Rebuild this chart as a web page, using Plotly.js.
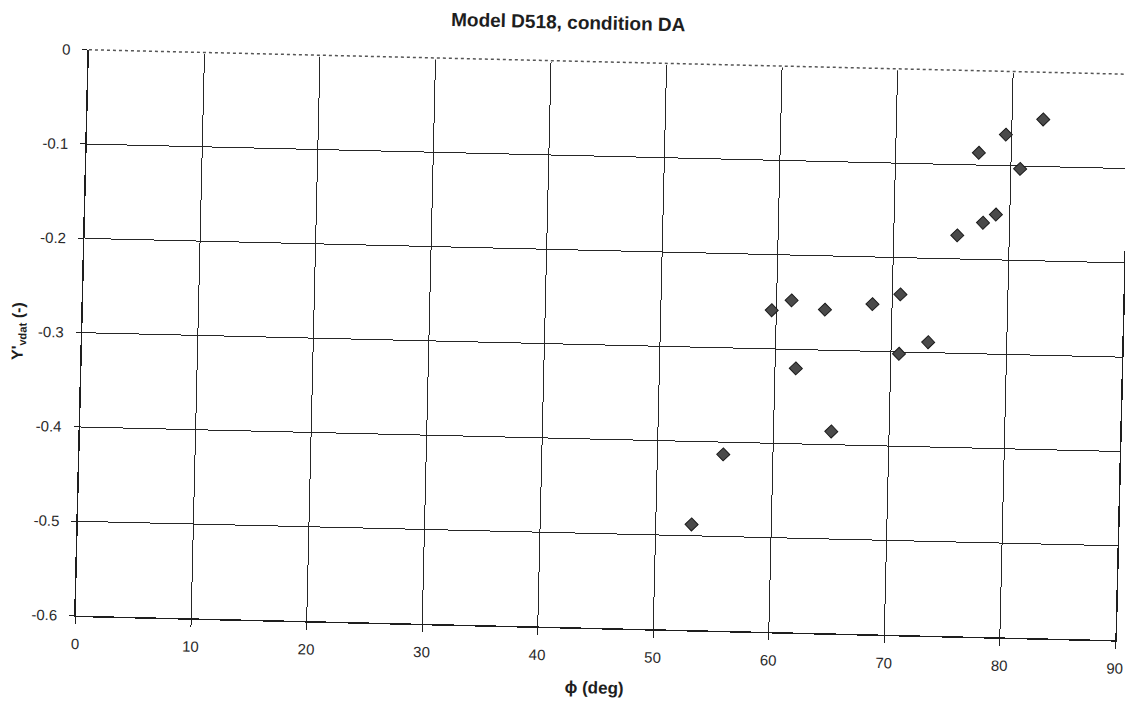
<!DOCTYPE html>
<html>
<head>
<meta charset="utf-8">
<script src="https://cdn.plot.ly/plotly-3.0.1.min.js"></script>
<style>
  html, body { margin: 0; padding: 0; background: #ffffff; overflow: hidden; width: 1125px; height: 702px; }
  /* the printed sheet sits slightly turned on the page */
  #chart { position: absolute; left: 0; top: 0; width: 1160px; height: 702px;
           transform-origin: 562.5px 351px; transform: rotate(1.35deg); }
</style>
</head>
<body>
<div id="chart"></div>
<script>
// Measured flow angle phi (deg) and the corresponding Y'vdat (-)
const phiDeg = [53.1, 55.7, 59.6, 61.3, 61.8, 64.2, 65.0, 68.3, 70.7, 70.7,
                73.2, 75.5, 77.2, 77.7, 78.8, 79.5, 80.8, 82.7];
const yVdat  = [-0.488, -0.413, -0.259, -0.248, -0.320, -0.257, -0.386, -0.250, -0.239, -0.302,
                -0.289, -0.175, -0.087, -0.161, -0.152, -0.067, -0.103, -0.050];

// Axis ticks
const xTickVals = [0, 10, 20, 30, 40, 50, 60, 70, 80, 90];
const yTickVals = [0, -0.1, -0.2, -0.3, -0.4, -0.5, -0.6];
const yTickText = ['0', '-0.1', '-0.2', '-0.3', '-0.4', '-0.5', '-0.6'];

const FONT = 'Liberation Sans, Arial, Helvetica, sans-serif';
const INK = '#1e1e1e';
const GRID = '#262626';

const trace = {
  type: 'scatter',
  mode: 'markers',
  x: phiDeg,
  y: yVdat,
  marker: { symbol: 'diamond', size: 10, color: '#4a4a4a', line: { color: '#1a1a1a', width: 1 } },
  hoverinfo: 'x+y',
  showlegend: false
};

const layout = {
  width: 1160,
  height: 702,
  margin: { l: 82, r: 38, t: 61, b: 75, pad: 0 },
  paper_bgcolor: '#ffffff',
  plot_bgcolor: '#ffffff',
  font: { family: FONT, color: INK, size: 15 },
  title: {
    text: '<b>Model D518, condition DA</b>',
    font: { family: FONT, size: 19, color: INK },
    xref: 'container', x: 0.4832, xanchor: 'center',
    yref: 'container', y: 0.9687, yanchor: 'middle'
  },
  xaxis: {
    range: [0, 90],
    tickvals: xTickVals,
    showgrid: true, gridcolor: GRID, gridwidth: 1,
    zeroline: false,
    showline: true, linecolor: INK, linewidth: 1.5,
    ticks: 'outside', ticklen: 7, tickcolor: INK, tickwidth: 1,
    ticklabelstandoff: 7,
    tickfont: { family: FONT, size: 15, color: '#2a2a2a' },
    title: { text: '<b>ϕ (deg)</b>', font: { family: FONT, size: 17, color: INK }, standoff: 18 }
  },
  yaxis: {
    range: [-0.6, 0],
    tickvals: yTickVals,
    ticktext: yTickText,
    showgrid: true, gridcolor: GRID, gridwidth: 1,
    zeroline: false,
    showline: true, linecolor: INK, linewidth: 1.5, mirror: true,
    ticks: 'outside', ticklen: 5, tickcolor: INK, tickwidth: 1,
    ticklabelstandoff: 9,
    tickfont: { family: FONT, size: 15, color: '#2a2a2a' },
    title: { text: "<b>Y'<sub>vdat</sub> (-)</b>", font: { family: FONT, size: 16, color: INK }, standoff: 10 }
  },
  shapes: [
    // top frame edge: blank out the grid line, then a faint dotted rule
    { type: 'line', xref: 'paper', yref: 'paper', x0: 0, x1: 1, y0: 1, y1: 1,
      line: { color: '#ffffff', width: 3 }, layer: 'above' },
    { type: 'line', xref: 'paper', yref: 'paper', x0: 0, x1: 1, y0: 1, y1: 1,
      line: { color: '#555555', width: 1.5, dash: 'dot' }, layer: 'above' }
  ]
};

Plotly.newPlot('chart', [trace], layout, { displayModeBar: false, staticPlot: true });
</script>
</body>
</html>
